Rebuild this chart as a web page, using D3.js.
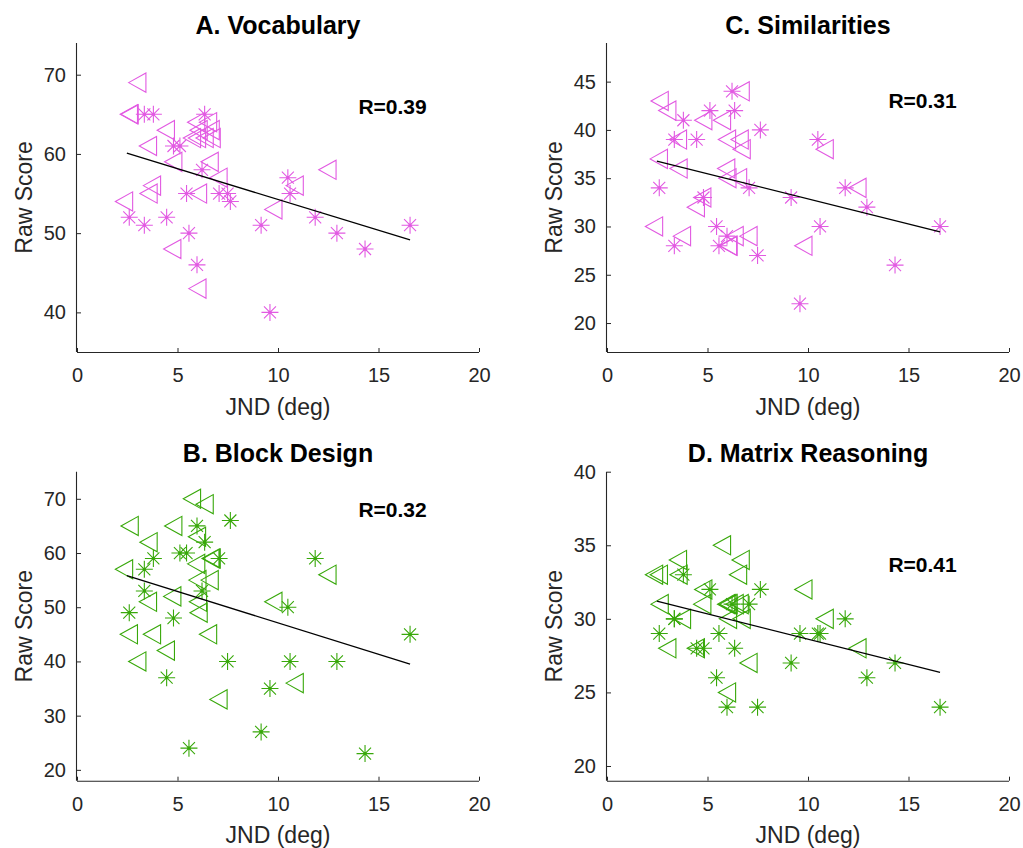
<!DOCTYPE html>
<html>
<head>
<meta charset="utf-8">
<script src="https://cdn.jsdelivr.net/npm/d3@7"></script>
<style>
  html, body { margin: 0; padding: 0; background: #fff; }
  svg { display: block; }
  text { font-family: "Liberation Sans", Arial, Helvetica, sans-serif; }
</style>
</head>
<body>
<svg id="chart" width="1023" height="848"></svg>
<script>
// ---------------- DATA ----------------
// JND (deg) of the two groups (stars = group 1, left triangles = group 2)
const jndStar = [2.60, 3.35, 3.35, 3.80, 4.46, 4.80, 5.12, 5.45, 5.57, 5.97, 6.22, 6.35,
                 7.07, 7.49, 7.63, 9.16, 9.60, 10.49, 10.60, 11.85, 12.93, 14.33, 16.57];
const jndTri  = [2.48, 2.72, 2.76, 3.14, 3.67, 3.70, 3.87, 4.56, 4.88, 4.93, 5.86, 6.07, 6.11,
                 6.13, 6.16, 6.19, 6.49, 6.66, 6.74, 6.79, 6.84, 7.18, 9.91, 10.97, 12.60];

// Raw scores
const vocabStar  = [52, 51, 65, 65, 52, 61, 61, 55, 50, 46, 58, 65, 55, 55, 54, 51, 40, 57, 55, 52, 50, 48, 51];
const vocabTri   = [54, 65, 65, 69, 61, 55, 56, 63, 48, 59, 62, 64, 62, 43, 55, 63, 62, 64, 59, 63, 62, 57, 53, 56, 58];
const simStar    = [34, 39, 28, 41, 39, 33, 42, 30, 28, 29, 44, 42, 34, 27, 40, 33, 22, 39, 30, 34, 32, 26, 30];
const simTri     = [30, 37, 43, 42, 39, 36, 29, 32, 33, 41, 41, 36, 39, 35, 28, 28, 29, 35, 39, 44, 38, 29, 28, 38, 34];
const blockStar  = [49, 57, 53, 59, 37, 48, 60, 60, 24, 65, 53, 62, 59, 40, 66, 27, 35, 50, 40, 59, 40, 23, 45];
const blockTri   = [57, 45, 65, 40, 51, 62, 45, 42, 52, 65, 70, 58, 63, 55, 51, 49, 69, 45, 55, 59, 59, 33, 51, 36, 56];
const matrixStar = [29, 30, 30, 33, 28, 28, 32, 26, 29, 24, 31, 28, 31, 24, 32, 27, 29, 29, 29, 30, 26, 27, 24];
const matrixTri  = [33, 33, 31, 28, 34, 33, 30, 28, 31, 32, 35, 31, 25, 31, 30, 31, 31, 33, 31, 34, 30, 27, 32, 30, 28];

// Panel titles, correlation labels, tick labels
const titles   = ["A. Vocabulary", "C. Similarities", "B. Block Design", "D. Matrix Reasoning"];
const rLabels  = ["R=0.39", "R=0.31", "R=0.32", "R=0.41"];
const xTicks   = [0, 5, 10, 15, 20];
const yTicksA  = [40, 50, 60, 70];
const yTicksC  = [20, 25, 30, 35, 40, 45];
const yTicksB  = [20, 30, 40, 50, 60, 70];
const yTicksD  = [20, 25, 30, 35, 40];
const xLabel   = "JND (deg)";
const yLabel   = "Raw Score";

// ---------------- LAYOUT / STYLE ----------------
const magenta = "#e25ae2";
const green   = "#38a80a";
const axisCol = "#262626";

const panels = [
  { title: titles[0], r: rLabels[0], star: vocabStar,  tri: vocabTri,  yTicks: yTicksA, yDom: [35, 74], rY: 66.0,
    color: magenta, left: 77,  top: 43,    w: 402, h: 309 },
  { title: titles[1], r: rLabels[1], star: simStar,    tri: simTri,    yTicks: yTicksC, yDom: [17, 49], rY: 43.1,
    color: magenta, left: 607, top: 43,    w: 402, h: 309 },
  { title: titles[2], r: rLabels[2], star: blockStar,  tri: blockTri,  yTicks: yTicksB, yDom: [18, 75], rY: 68.1,
    color: green,   left: 77,  top: 471.7, w: 402, h: 309 },
  { title: titles[3], r: rLabels[3], star: matrixStar, tri: matrixTri, yTicks: yTicksD, yDom: [19, 40], rY: 33.7,
    color: green,   left: 607, top: 471.7, w: 402, h: 309 }
];

const svg = d3.select("#chart");

const starPath = "M-8.5,0H8.5M0,-8.5V8.5M-6,-6L6,6M-6,6L6,-6";
const triPath  = "M-11.5,0L5.8,-9.6L5.8,9.6Z";

function linFit(xs, ys) {
  const n = xs.length;
  const mx = d3.mean(xs), my = d3.mean(ys);
  let sxy = 0, sxx = 0;
  for (let i = 0; i < n; i++) { sxy += (xs[i] - mx) * (ys[i] - my); sxx += (xs[i] - mx) ** 2; }
  const b = sxy / sxx;
  return { b, a: my - b * mx };
}

panels.forEach(p => {
  const g = svg.append("g").attr("transform", `translate(${p.left},${p.top})`);
  const x = d3.scaleLinear().domain([0, 20]).range([0, p.w]);
  const y = d3.scaleLinear().domain(p.yDom).range([p.h, 0]);

  // axes
  const xAxis = d3.axisBottom(x).tickValues(xTicks).tickSize(-4).tickPadding(12).tickFormat(d3.format("d"));
  const yAxis = d3.axisLeft(y).tickValues(p.yTicks).tickSize(-4).tickPadding(11).tickFormat(d3.format("d"));

  const gx = g.append("g").attr("transform", `translate(0,${p.h})`).call(xAxis);
  const gy = g.append("g").call(yAxis);
  [gx, gy].forEach(ax => {
    ax.select(".domain").attr("stroke", axisCol).attr("stroke-width", 1.1);
    ax.selectAll(".tick line").attr("stroke", axisCol).attr("stroke-width", 1);
    ax.selectAll(".tick text").attr("fill", axisCol).style("font-size", "20px")
      .style("font-family", "'Liberation Sans', Arial, sans-serif");
  });
  gx.select(".domain").attr("d", `M0,0.5H${p.w}`);
  gy.select(".domain").attr("d", `M-0.5,0V${p.h}`);
  gx.selectAll(".tick text").attr("dy", null).attr("y", 30);

  // data points
  const starPts = jndStar.map((v, i) => [v, p.star[i]]);
  const triPts  = jndTri.map((v, i) => [v, p.tri[i]]);

  g.append("g").selectAll("path.tri").data(triPts).join("path")
    .attr("class", "tri")
    .attr("d", triPath)
    .attr("transform", d => `translate(${x(d[0])},${y(d[1])})`)
    .attr("fill", "none").attr("stroke", p.color).attr("stroke-width", 1.1);

  g.append("g").selectAll("path.star").data(starPts).join("path")
    .attr("class", "star")
    .attr("d", starPath)
    .attr("transform", d => `translate(${x(d[0])},${y(d[1])})`)
    .attr("fill", "none").attr("stroke", p.color).attr("stroke-width", 1.1);
  g.append("g").selectAll("circle").data(starPts).join("circle")
    .attr("cx", d => x(d[0])).attr("cy", d => y(d[1])).attr("r", 1.6)
    .attr("fill", p.color);

  // regression line (least squares over both groups)
  const allX = jndStar.concat(jndTri);
  const allY = p.star.concat(p.tri);
  const fit = linFit(allX, allY);
  const [x0, x1] = d3.extent(allX);
  g.append("path")
    .datum([[x0, fit.a + fit.b * x0], [x1, fit.a + fit.b * x1]])
    .attr("d", d3.line().x(d => x(d[0])).y(d => y(d[1])))
    .attr("stroke", "#000").attr("stroke-width", 1.3).attr("fill", "none");

  // R label
  g.append("text")
    .attr("x", x(14)).attr("y", y(p.rY)).attr("dy", "0.36em")
    .attr("font-size", "21px").attr("font-weight", "bold").attr("fill", "#000")
    .text(p.r);

  // title
  g.append("text")
    .attr("x", p.w / 2).attr("y", -9.5).attr("text-anchor", "middle")
    .attr("font-size", "25px").attr("font-weight", "bold").attr("fill", "#000")
    .text(p.title);

  // x label
  g.append("text")
    .attr("x", p.w / 2).attr("y", p.h + 62.5).attr("text-anchor", "middle")
    .attr("font-size", "23px").attr("fill", axisCol)
    .text(xLabel);

  // y label
  g.append("text")
    .attr("transform", `translate(-45.5,${p.h / 2}) rotate(-90)`)
    .attr("text-anchor", "middle")
    .attr("font-size", "23px").attr("fill", axisCol)
    .text(yLabel);
});
</script>
</body>
</html>
